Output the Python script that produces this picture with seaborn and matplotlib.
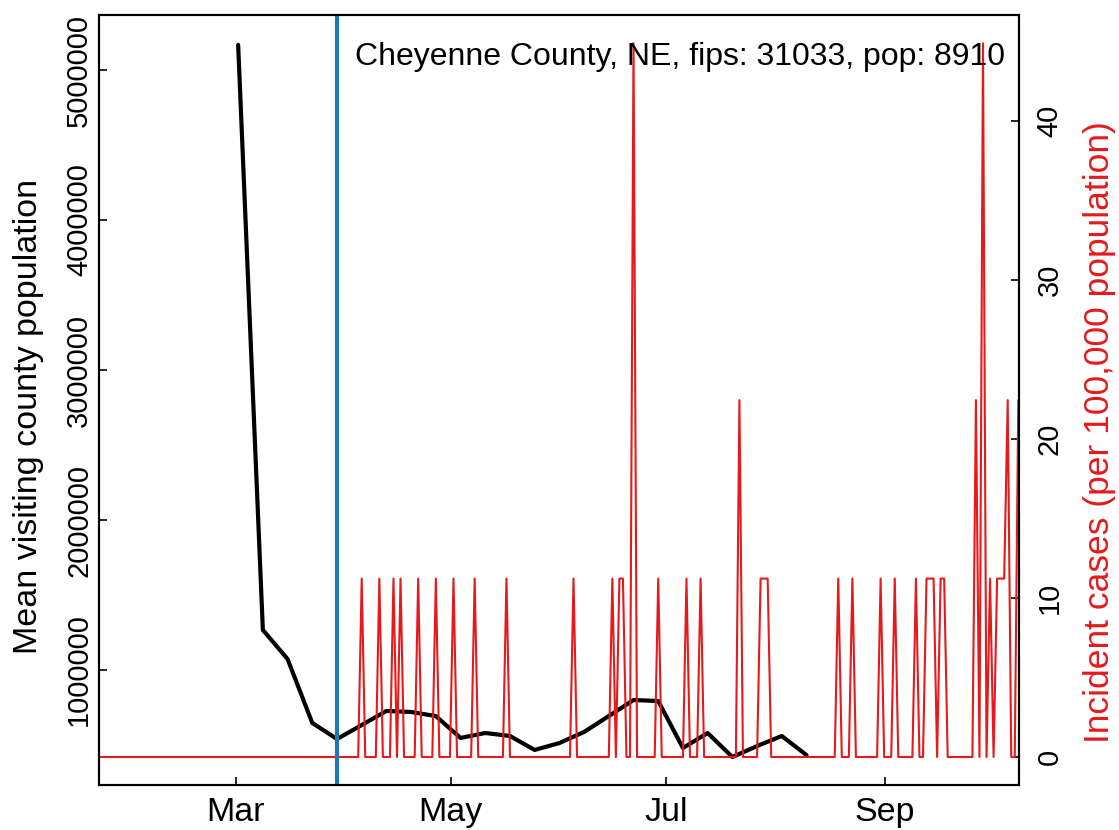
import matplotlib
matplotlib.use("Agg")
import matplotlib.pyplot as plt
import matplotlib.dates as mdates
import numpy as np
import pandas as pd
import seaborn as sns

# ---------------- data ----------------
county_title = "Cheyenne County, NE, fips: 31033, pop: 8910"
population = 8910

# weekly mean visiting county population (black line)
week_dates = pd.date_range("2020-03-01", periods=24, freq="7D")
visit_pop = [5167000, 1267000, 1073000, 647000, 540000, 633000, 727000, 720000,
             693000, 547000, 580000, 560000, 467000, 513000, 587000, 693000,
             800000, 793000, 480000, 580000, 420000, 493000, 560000, 433000]

# daily incident cases (red line): only non-zero days listed
case_start, case_end = "2020-01-22", "2020-10-08"
case_dates = ["2020-04-05", "2020-04-10", "2020-04-14", "2020-04-16", "2020-04-21",
              "2020-04-26", "2020-05-01", "2020-05-07", "2020-05-16", "2020-06-04",
              "2020-06-15", "2020-06-17", "2020-06-18", "2020-06-21", "2020-06-28",
              "2020-07-06", "2020-07-10", "2020-07-21", "2020-07-27", "2020-07-28",
              "2020-07-29", "2020-08-18", "2020-08-22", "2020-08-30", "2020-09-03",
              "2020-09-09", "2020-09-12", "2020-09-13", "2020-09-14", "2020-09-16",
              "2020-09-17", "2020-09-26", "2020-09-28", "2020-09-30", "2020-10-02",
              "2020-10-03", "2020-10-04", "2020-10-05", "2020-10-08"]
case_counts = [1, 1, 1, 1, 1,
               1, 1, 1, 1, 1,
               1, 1, 1, 4, 1,
               1, 1, 2, 1, 1,
               1, 1, 1, 1, 1,
               1, 1, 1, 1, 1,
               1, 2, 4, 1, 1,
               1, 1, 2, 2]

intervention_date = "2020-03-29"

left_ticks = [1000000, 2000000, 3000000, 4000000, 5000000]
right_ticks = [0, 10, 20, 30, 40]
month_ticks = ["2020-03-01", "2020-05-01", "2020-07-01", "2020-09-01"]
month_labels = ["Mar", "May", "Jul", "Sep"]

# ---------------- build tables ----------------
black_df = pd.DataFrame({"date": week_dates, "visit": visit_pop})
days = pd.date_range(case_start, case_end, freq="D")
cases = pd.Series(0.0, index=days)
cases.loc[pd.to_datetime(case_dates)] = case_counts
red_df = pd.DataFrame({"date": days, "rate": cases.values * 1e5 / population})

# ---------------- plot ----------------
sns.set_style("white")
plt.rcParams["font.family"] = ["Liberation Sans", "DejaVu Sans"]
for k in ("text.color", "axes.labelcolor", "xtick.color", "ytick.color", "axes.edgecolor"):
    plt.rcParams[k] = "black"

W, H = 1119, 830
fig = plt.figure(figsize=(W / 100, H / 100), dpi=100)
ax = fig.add_axes([99 / W, 45 / H, 920 / W, 770 / H])

sns.lineplot(data=black_df, x="date", y="visit", ax=ax, color="black",
             linewidth=3.0, estimator=None, legend=False)
ax.set_ylim(233300, 5367000)

ax2 = ax.twinx()
sns.lineplot(data=red_df, x="date", y="rate", ax=ax2, color="#E41A1C",
             linewidth=1.5, estimator=None, legend=False)
ax2.axvline(pd.Timestamp(intervention_date), color="#1F77B4", linewidth=3.0)
ax2.set_ylim(-1.76, 46.67)

x0 = mdates.date2num(pd.Timestamp("2020-03-01"))
ax.set_xlim(x0 - 39.42, x0 + 221.2)

tick_pos = [mdates.date2num(pd.Timestamp(d)) - 0.75 for d in month_ticks]
ax.set_xticks(tick_pos)
ax.set_xticklabels(month_labels, fontsize=24.5)
ax.set_yticks(left_ticks)
ax.set_yticklabels([str(v) for v in left_ticks], rotation=90, va="center", fontsize=21)
ax2.set_yticks(right_ticks)
ax2.set_yticklabels([str(v) for v in right_ticks], rotation=90, va="center", fontsize=21)

ax.tick_params(axis="x", direction="in", length=6, width=1.2, pad=8.5, bottom=True)
ax.tick_params(axis="y", direction="in", length=6, width=1.2, pad=4.3, left=True)
ax2.tick_params(axis="y", direction="in", length=6, width=1.2, pad=12, right=True)

for a in (ax, ax2):
    for s in a.spines.values():
        s.set_visible(True)
        s.set_color("black")
        s.set_linewidth(1.5)

ax.set_xlabel("")
ax.set_ylabel("")
ax2.set_ylabel("")
fig.text(29 / W, 1 - 416 / H, "Mean visiting county population", fontsize=24.5,
         rotation=90, ha="center", va="center")
fig.text(1100 / W, 1 - 432 / H, "Incident cases (per 100,000 population)",
         fontsize=25.5, color="#E41A1C", rotation=90, ha="center", va="center")

ax2.text((1005 - 99) / 920, (785 - 57) / 770, county_title, transform=ax.transAxes,
         ha="right", va="center", fontsize=23)

fig.savefig("out.png", dpi=100)
